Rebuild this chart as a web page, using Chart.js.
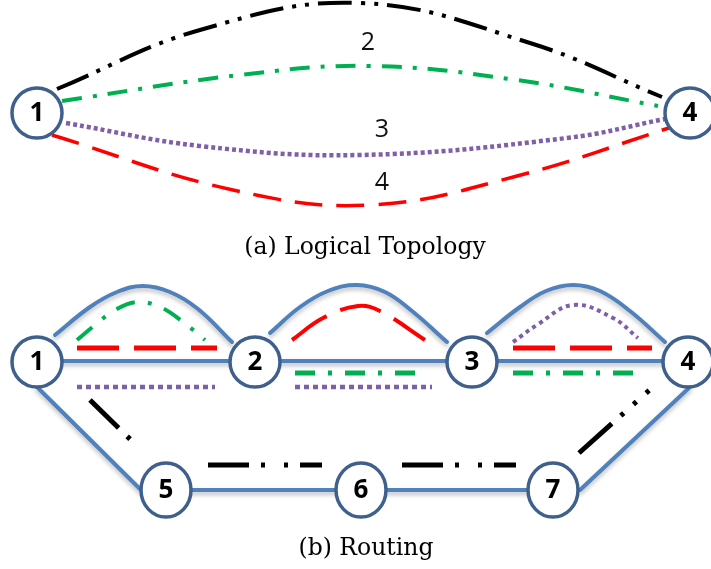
<!DOCTYPE html>
<html>
<head>
<meta charset="utf-8">
<script src="https://cdn.jsdelivr.net/npm/chart.js@4.4.1/dist/chart.umd.min.js"></script>
<style>
  html, body { margin: 0; padding: 0; background: #fff; }
  #wrap { width: 711px; height: 569px; }
</style>
</head>
<body>
<div id="wrap"><canvas id="topo" width="711" height="569"></canvas></div>
<script>
// ---- data (pixel-space coordinates of the figure) ----
// (a) logical topology
const logicalNodeIds = ['1', '4'];
const logicalNodeX = [37, 690];
const logicalNodeY = [113, 113];

const logicalPath1 = [[57, 89], [200, 30], [360, 3], [530, 43], [662, 97]];
const logicalPath2 = [[62, 101], [240, 75], [370, 66], [517, 80], [658, 106]];
const logicalPath3 = [[66, 123], [200, 146], [360, 155], [567, 138], [665, 119]];
const logicalPath4 = [[52, 135], [233, 190], [370, 205], [517, 176], [672, 127]];
const logicalPathLabels = ['2', '3', '4'];
const logicalLabelX = [368, 382, 382];
const logicalLabelY = [43, 130, 183];

// (b) routing: physical network
const physNodeIds = ['1', '2', '3', '4', '5', '6', '7'];
const physNodeX = [37, 255, 472, 688, 166, 361, 553];
const physNodeY = [362, 362, 362, 362, 490, 490, 490];
const physNodeOval = [false, false, false, false, true, true, true];

const linkStraight = [[37, 361], [688, 361]];
const linkArc12 = [[55, 335], [90, 307], [117, 292], [143, 286], [170, 292], [198, 309], [232, 342]];
const linkArc23 = [[270, 333], [300, 307], [328, 291], [357, 285], [385, 292], [412, 311], [447, 342]];
const linkArc34 = [[487, 333], [520, 307], [546, 291], [573, 285], [600, 291], [630, 311], [665, 342]];
const link15 = [[37, 387], [141, 490]];
const link47 = [[690, 387], [580, 490]];
const link57 = [[166, 490], [553, 490]];

// routed lightpaths
const route1a = [[90, 400], [134, 443]];
const route1b = [[208, 465], [322, 465]];
const route1c = [[402, 465], [516, 465]];
const route1d = [[579, 453], [654, 386]];
const route2a = [[77, 340], [95, 325], [115, 310], [137, 302], [160, 307], [183, 322], [205, 340]];
const route2b = [[295, 373], [428, 373]];
const route2c = [[513, 373], [645, 373]];
const route3a = [[77, 387], [215, 387]];
const route3b = [[295, 387], [432, 387]];
const route3c = [[513, 342], [537, 325], [573, 305], [613, 318], [638, 338]];
const route4a = [[77, 348], [217, 348]];
const route4b = [[292, 340], [323, 318], [358, 306], [380, 311], [425, 340]];
const route4c = [[513, 348], [652, 348]];

const captions = ['(a) Logical Topology', '(b) Routing'];
const captionX = [365, 366];
const captionY = [248, 549];

// ---- styles ----
const BLACK = '#000000';
const GREEN = '#00b050';
const PURPLE = '#7f5fa8';
const RED = '#ff0000';
const LINK = '#4f81bd';
const NODE_BORDER = '#3f5f8c';

const toPts = arr => arr.map(p => ({ x: p[0], y: p[1] }));

function path(points, color, width, dash, curved, order) {
    return {
        data: toPts(points),
        borderColor: color,
        borderWidth: width,
        borderDash: dash,
        borderCapStyle: 'butt',
        showLine: true,
        fill: false,
        pointRadius: 0,
        tension: curved ? 0.4 : 0,
        clip: false,
        order: order
    };
}

function link(points, curved) {
    const ds = path(points, LINK, 4, [], curved, 3);
    ds.shadow = true;
    ds.borderCapStyle = 'round';
    return ds;
}

const nodeSet = (ids, xs, ys, ovals) => ({
    data: ids.map((id, i) => ({ x: xs[i], y: ys[i], id: id, oval: ovals ? ovals[i] : false })),
    pointRadius: 0,
    showLine: false,
    nodes: true,
    clip: false,
    order: 0
});

const dashDotDot = [34, 9, 4, 9, 4, 9];
const dashDot = [20, 11, 4, 11];
const dotted = [4, 3];
const dashed = [28, 14];

const datasets = [
    nodeSet(logicalNodeIds, logicalNodeX, logicalNodeY),
    nodeSet(physNodeIds, physNodeX, physNodeY, physNodeOval),

    path(logicalPath1, BLACK, 4, dashDotDot, true, 1),
    path(logicalPath2, GREEN, 4, dashDot, true, 1),
    path(logicalPath3, PURPLE, 4.5, dotted, true, 1),
    path(logicalPath4, RED, 3.5, dashed, true, 1),

    link(linkStraight, false),
    link(linkArc12, true),
    link(linkArc23, true),
    link(linkArc34, true),
    link(link15, false),
    link(link47, false),
    link(link57, false),

    path(route1a, BLACK, 5, [40, 12, 4, 40], false, 1),
    path(route1b, BLACK, 5, [41, 12, 4, 19, 4, 12, 30], false, 1),
    path(route1c, BLACK, 5, [41, 12, 4, 19, 4, 12, 30], false, 1),
    path(route1d, BLACK, 5, [44, 12, 4, 13, 4, 13, 4, 30], false, 1),
    path(route2a, GREEN, 4, [20, 13, 4, 13], true, 1),
    path(route2b, GREEN, 5, [20, 13, 4, 13], false, 1),
    path(route2c, GREEN, 5, [20, 13, 4, 13], false, 1),
    path(route3a, PURPLE, 4.5, [5, 4], false, 1),
    path(route3b, PURPLE, 4.5, [5, 4], false, 1),
    path(route3c, PURPLE, 4, [4, 4], true, 1),
    path(route4a, RED, 5, [42, 15], false, 1),
    path(route4b, RED, 4, [42, 15], true, 1),
    path(route4c, RED, 5, [42, 15], false, 1)
];

// soft shadow under the blue physical links
const linkShadow = {
    id: 'linkShadow',
    beforeDatasetDraw(chart, args) {
        if (!args.meta._dataset.shadow) return;
        const ctx = chart.ctx;
        ctx.save();
        ctx.shadowColor = 'rgba(0, 0, 0, 0.25)';
        ctx.shadowOffsetY = 3;
        ctx.shadowBlur = 4;
    },
    afterDatasetDraw(chart, args) {
        if (args.meta._dataset.shadow) chart.ctx.restore();
    }
};

// node circles, labels and captions
const decorations = {
    id: 'decorations',
    afterDatasetsDraw(chart) {
        const ctx = chart.ctx;
        const sx = chart.scales.x, sy = chart.scales.y;
        chart.data.datasets.forEach((ds, di) => {
            if (!ds.nodes) return;
            const meta = chart.getDatasetMeta(di);
            meta.data.forEach((el, i) => {
                const item = ds.data[i];
                ctx.save();
                ctx.beginPath();
                ctx.ellipse(el.x, el.y, 25, item.oval ? 27 : 25, 0, 0, Math.PI * 2);
                ctx.fillStyle = '#ffffff';
                ctx.fill();
                ctx.lineWidth = 3.5;
                ctx.strokeStyle = NODE_BORDER;
                ctx.stroke();
                ctx.fillStyle = '#000';
                ctx.font = 'bold 26px "Open Sans", sans-serif';
                ctx.textAlign = 'center';
                ctx.textBaseline = 'middle';
                ctx.fillText(item.id, el.x, el.y + 1);
                ctx.restore();
            });
        });

        ctx.save();
        ctx.fillStyle = '#111';
        ctx.font = '25px "Open Sans", sans-serif';
        ctx.textAlign = 'center';
        ctx.textBaseline = 'middle';
        logicalPathLabels.forEach((t, i) => {
            ctx.fillText(t, sx.getPixelForValue(logicalLabelX[i]), sy.getPixelForValue(logicalLabelY[i]));
        });
        ctx.fillStyle = '#000';
        ctx.font = '23.5px "DejaVu Serif", serif';
        captions.forEach((t, i) => {
            ctx.fillText(t, sx.getPixelForValue(captionX[i]), sy.getPixelForValue(captionY[i]));
        });
        ctx.restore();
    }
};

new Chart(document.getElementById('topo'), {
    type: 'scatter',
    data: { datasets: datasets },
    options: {
        responsive: false,
        animation: false,
        devicePixelRatio: 1,
        layout: { padding: 0 },
        plugins: { legend: { display: false }, tooltip: { enabled: false } },
        scales: {
            x: { type: 'linear', min: 0, max: 711, display: false },
            y: { type: 'linear', min: 0, max: 569, reverse: true, display: false }
        }
    },
    plugins: [linkShadow, decorations]
});
</script>
</body>
</html>
